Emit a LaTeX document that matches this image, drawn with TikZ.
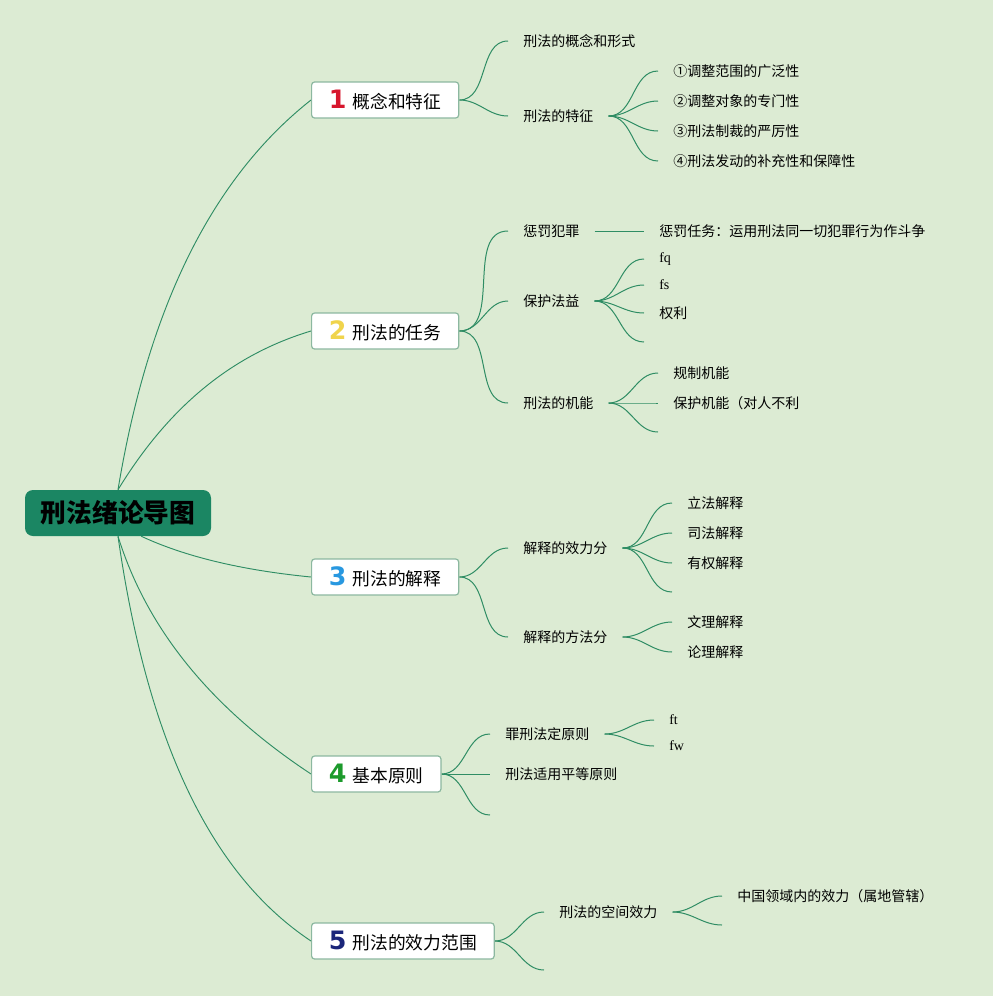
\documentclass[tikz,border=0pt]{standalone}
\usepackage{fontspec}
\setmainfont{Noto Sans CJK SC}
\newfontfamily\cifras{DejaVu Sans}
\newfontfamily\latina{Liberation Serif}
\usetikzlibrary{calc, backgrounds}
\definecolor{FondoVerde}{RGB}{220,235,211}
\definecolor{VerdeRaiz}{RGB}{27,134,99}
\definecolor{VerdeLinea}{RGB}{47,141,100}
\definecolor{BordeTema}{RGB}{140,184,160}
\definecolor{NumRojo}{RGB}{215,22,45}
\definecolor{NumAmarillo}{RGB}{240,212,76}
\definecolor{NumAzul}{RGB}{40,152,224}
\definecolor{NumVerde}{RGB}{28,154,44}
\definecolor{NumMarino}{RGB}{27,38,122}
\newcommand{\numtema}[2]{{\cifras\bfseries\fontsize{19}{19}\selectfont\color{#1}#2}\hspace{4.6pt}}

\begin{document}
\begin{tikzpicture}[
    x=0.75pt, y=-0.75pt,
    raiz/.style={fill=VerdeRaiz, rounded corners=6pt, minimum width=139.5pt, minimum height=34.5pt, inner sep=0pt, font=\fontsize{19.3}{22}\selectfont\bfseries},
    tema/.style={draw=BordeTema, line width=0.9pt, fill=white, rounded corners=2.25pt, minimum height=27pt, inner xsep=13pt, inner ysep=0pt, anchor=west, font=\fontsize{13.3}{15}\selectfont},
    subtema/.style={anchor=west, inner xsep=11.25pt, inner ysep=2pt, font=\fontsize{10.5}{12}\selectfont},
    hoja_latina/.style={subtema, font=\latina\fontsize{10.5}{12}\selectfont},
    rama/.style={draw=VerdeLinea, line width=0.75pt},
    rama_raiz/.style={draw=VerdeLinea, line width=0.7pt},
    curva/.style={rama, out=0, in=180}
]
    \useasboundingbox (0,0) rectangle (993,996);

    % 1. Nodo central
    \node[raiz] (raiz) at (118,513) {刑法绪论导图};

    % 2. Temas principales
    \node[tema] (t1) at (311,100) {\numtema{NumRojo}{1}概念和特征};
    \node[tema] (t2) at (311,331) {\numtema{NumAmarillo}{2}刑法的任务};
    \node[tema] (t3) at (311,577) {\numtema{NumAzul}{3}刑法的解释};
    \node[tema] (t4) at (311,774) {\numtema{NumVerde}{4}基本原则};
    \node[tema] (t5) at (311,941) {\numtema{NumMarino}{5}刑法的效力范围};

    % 3. Tema 1
    \node[subtema] (t1a) at (508,41) {刑法的概念和形式};
    \node[subtema] (t1b) at (508,116) {刑法的特征};
    \node[subtema] (t1b1) at (658,71) {①调整范围的广泛性};
    \node[subtema] (t1b2) at (658,101) {②调整对象的专门性};
    \node[subtema] (t1b3) at (658,131) {③刑法制裁的严厉性};
    \node[subtema] (t1b4) at (658,161) {④刑法发动的补充性和保障性};

    % 4. Tema 2
    \node[subtema] (t2a) at (508,231) {惩罚犯罪};
    \node[subtema] (t2a1) at (644,231) {惩罚任务：运用刑法同一切犯罪行为作斗争};
    \node[subtema] (t2b) at (508,301) {保护法益};
    \node[hoja_latina] (t2b1) at (644,259) {fq};
    \node[hoja_latina] (t2b2) at (644,285) {fs};
    \node[subtema] (t2b3) at (644,313) {权利};
    \coordinate (t2b4) at (644,342);
    \node[subtema] (t2c) at (508,403) {刑法的机能};
    \node[subtema] (t2c1) at (658,373) {规制机能};
    \node[subtema] (t2c2) at (658,403) {保护机能（对人不利};
    \coordinate (t2c3) at (658,432);

    % 5. Tema 3
    \node[subtema] (t3a) at (508,548) {解释的效力分};
    \node[subtema] (t3a1) at (672,503) {立法解释};
    \node[subtema] (t3a2) at (672,533) {司法解释};
    \node[subtema] (t3a3) at (672,563) {有权解释};
    \coordinate (t3a4) at (672,592);
    \node[subtema] (t3b) at (508,637) {解释的方法分};
    \node[subtema] (t3b1) at (672,622) {文理解释};
    \node[subtema] (t3b2) at (672,652) {论理解释};

    % 6. Tema 4
    \node[subtema] (t4a) at (490,734) {罪刑法定原则};
    \node[hoja_latina] (t4a1) at (654,720) {ft};
    \node[hoja_latina] (t4a2) at (654,746) {fw};
    \node[subtema] (t4b) at (490,774) {刑法适用平等原则};
    \coordinate (t4c) at (490,815);

    % 7. Tema 5
    \node[subtema] (t5a) at (544,912) {刑法的空间效力};
    \node[subtema] (t5a1) at (722,896) {中国领域内的效力（属地管辖）};
    \coordinate (t5a2) at (722,925);
    \coordinate (t5b) at (544,970);

    % 8. Fondo y ramas (detras de los nodos)
    \begin{scope}[on background layer]
        \fill[FondoVerde] (0,0) rectangle (993,996);

        % ramas desde la raiz
        \draw[rama_raiz] (raiz.north) .. controls ($(raiz.north)+(30,-181)$) and ($(t1.west)+(-100,79)$) .. (t1.west);
        \draw[rama_raiz] (raiz.north) .. controls ($(raiz.north)+(50,-82)$) and ($(t2.west)+(-80,24)$) .. (t2.west);
        \draw[rama_raiz] (raiz.-45) .. controls ($(raiz.-45)+(43,20)$) and ($(t3.west)+(-71,-7)$) .. (t3.west);
        \draw[rama_raiz] (raiz.south) .. controls ($(raiz.south)+(28,90)$) and ($(t4.west)+(-103,-68)$) .. (t4.west);
        \draw[rama_raiz] (raiz.south) .. controls ($(raiz.south)+(29,203)$) and ($(t5.west)+(-101,-67)$) .. (t5.west);

        % tema 1
        \draw[curva] (t1.east) to (t1a.west);
        \draw[curva] (t1.east) to (t1b.west);
        \draw[curva] (t1b.east) to (t1b1.west);
        \draw[curva] (t1b.east) to (t1b2.west);
        \draw[curva] (t1b.east) to (t1b3.west);
        \draw[curva] (t1b.east) to (t1b4.west);

        % tema 2
        \draw[curva] (t2.east) to (t2a.west);
        \draw[curva] (t2.east) to (t2b.west);
        \draw[curva] (t2.east) to (t2c.west);
        \draw[rama] (t2a.east) -- (t2a1.west);
        \draw[curva] (t2b.east) to (t2b1.west);
        \draw[curva] (t2b.east) to (t2b2.west);
        \draw[curva] (t2b.east) to (t2b3.west);
        \draw[curva] (t2b.east) to (t2b4);
        \draw[curva] (t2c.east) to (t2c1.west);
        \draw[curva] (t2c.east) to (t2c2.west);
        \draw[curva] (t2c.east) to (t2c3);

        % tema 3
        \draw[curva] (t3.east) to (t3a.west);
        \draw[curva] (t3.east) to (t3b.west);
        \draw[curva] (t3a.east) to (t3a1.west);
        \draw[curva] (t3a.east) to (t3a2.west);
        \draw[curva] (t3a.east) to (t3a3.west);
        \draw[curva] (t3a.east) to (t3a4);
        \draw[curva] (t3b.east) to (t3b1.west);
        \draw[curva] (t3b.east) to (t3b2.west);

        % tema 4
        \draw[curva] (t4.east) to (t4a.west);
        \draw[rama] (t4.east) -- (t4b.west);
        \draw[curva] (t4.east) to (t4c);
        \draw[curva] (t4a.east) to (t4a1.west);
        \draw[curva] (t4a.east) to (t4a2.west);

        % tema 5
        \draw[curva] (t5.east) to (t5a.west);
        \draw[curva] (t5.east) to (t5b);
        \draw[curva] (t5a.east) to (t5a1.west);
        \draw[curva] (t5a.east) to (t5a2);
    \end{scope}

\end{tikzpicture}
\end{document}
